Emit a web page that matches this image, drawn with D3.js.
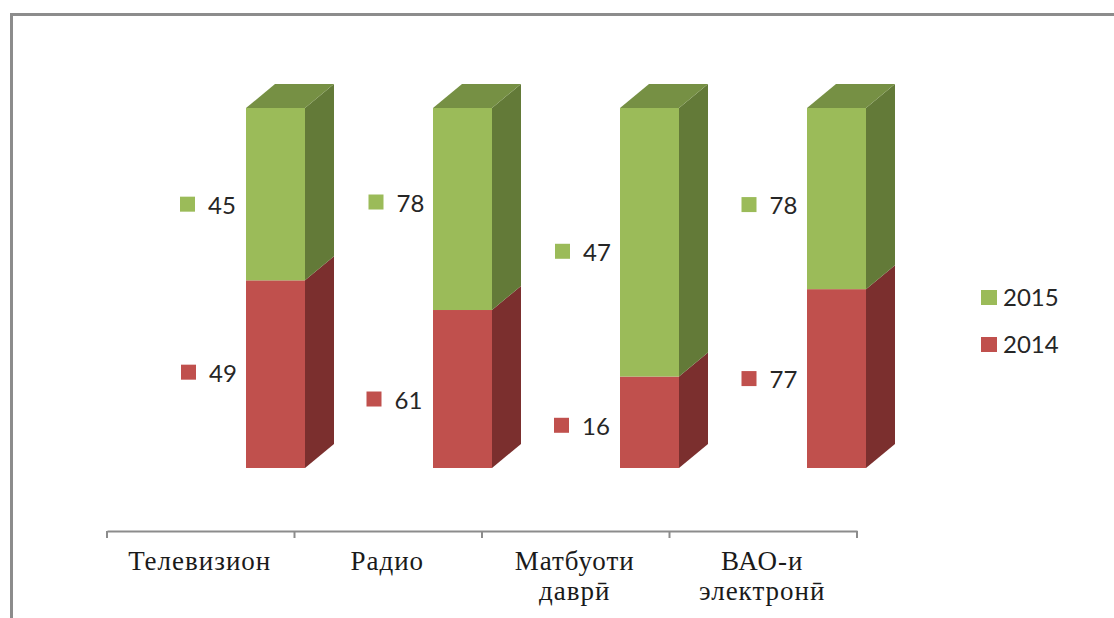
<!DOCTYPE html>
<html>
<head>
<meta charset="utf-8">
<script src="https://cdn.jsdelivr.net/npm/d3@7"></script>
<style>
  html, body { margin: 0; padding: 0; background: #fff; overflow: hidden; }
  svg { display: block; }
</style>
</head>
<body>
<div id="viz"></div>
<script>
const categories = ['Телевизион', 'Радио', 'Матбуоти даврӣ', 'ВАО-и электронӣ']
const values2014 = [49, 61, 16, 77]
const values2015 = [45, 78, 47, 78]
const years = ['2014', '2015']

const width = 1114
const height = 618

const fills = { 2014: '#c0504d', 2015: '#9bbb59' }
const sides = { 2014: '#7b2f2e', 2015: '#637a38' }
const tops = { 2015: '#769044' }

// the labels were dragged by hand in the original, so keep their nudges apart from the data
const labelNudge = {
  2014: [[74, -2], [72, 10], [72, 3], [72, 0]],
  2015: [[73, 10], [74, -7], [73, 9], [72, 6]]
}

const table = categories.map((c, i) => ({ category: c, 2014: values2014[i], 2015: values2015[i] }))
const series = d3.stack().keys(years).offset(d3.stackOffsetExpand)(table)

const x = d3.scaleBand().domain(categories).range([107, 857])
const xBars = d3.scaleBand().domain(categories).range([107, 855])  // the 3d bars run a touch tighter than the axis
const y = d3.scaleLinear().domain([0, 1]).range([468, 108])

const barLeft = 139   // bars sit off centre in their band because of the 3d rotation
const barWidth = 59
const depthX = 29
const depthY = 24

const svg = d3.select('#viz').append('svg')
  .attr('width', width)
  .attr('height', height)

// frame, cropped by the page on the right and bottom
svg.append('path')
  .attr('d', d3.line()([[11.5, height], [11.5, 14.5], [width, 14.5]]))
  .attr('fill', 'none')
  .attr('stroke', '#8c8c8c')
  .attr('stroke-width', 3)

// axis
const axis = svg.append('g')
  .attr('transform', 'translate(0,531)')
  .call(d3.axisBottom(x).tickSize(0).tickPadding(0).tickFormat(''))
axis.select('.domain').attr('stroke', '#8c8c8c').attr('stroke-width', 2)
axis.selectAll('.tick').remove()

axis.selectAll('line.sep')
  .data(categories.map(c => x(c)).concat(x.range()[1]))
  .join('line')
  .attr('class', 'sep')
  .attr('x1', d => d).attr('x2', d => d)
  .attr('y1', 0).attr('y2', 7)
  .attr('stroke', '#8c8c8c')
  .attr('stroke-width', 2)

function wrapLines(name) {
  return name.indexOf(' ') < 0 ? [name] : name.split(' ')
}

svg.selectAll('text.cat')
  .data(categories)
  .join('text')
  .attr('class', 'cat')
  .attr('y', 570)
  .attr('text-anchor', 'middle')
  .attr('font-family', '"Liberation Serif"')
  .attr('font-size', 27)
  .attr('letter-spacing', 1)
  .attr('fill', '#1a1a1a')
  .selectAll('tspan')
  .data(d => wrapLines(d).map(line => ({ line, x: x(d) + x.bandwidth() / 2 - 1 })))
  .join('tspan')
  .attr('x', d => d.x)
  .attr('dy', (d, i) => i ? 30 : 0)
  .text(d => d.line)

// bars
series.forEach(s => {
  const year = s.key
  const g = svg.append('g').attr('class', 'series-' + year)

  s.forEach(d => {
    const left = xBars(d.data.category) + barLeft
    const right = left + barWidth
    const y0 = y(d[0])
    const y1 = y(d[1])

    g.append('path')
      .attr('d', d3.line()([[right, y0], [right + depthX, y0 - depthY], [right + depthX, y1 - depthY], [right, y1]]) + 'Z')
      .attr('fill', sides[year])

    if (year === '2015') {
      g.append('path')
        .attr('d', d3.line()([[left, y1], [left + depthX, y1 - depthY], [right + depthX, y1 - depthY], [right, y1]]) + 'Z')
        .attr('fill', tops[year])
    }

    g.append('rect')
      .attr('x', left)
      .attr('y', y1)
      .attr('width', barWidth)
      .attr('height', y0 - y1)
      .attr('fill', fills[year])
  })
})

// data labels with their key
series.forEach(s => {
  const year = s.key
  s.forEach((d, i) => {
    const cx = x(d.data.category) + labelNudge[year][i][0]
    const cy = (y(d[0]) + y(d[1])) / 2 + labelNudge[year][i][1]
    svg.append('rect')
      .attr('x', cx)
      .attr('y', cy - 7.5)
      .attr('width', 15)
      .attr('height', 15)
      .attr('fill', fills[year])
    svg.append('text')
      .attr('x', cx + 28)
      .attr('y', cy + 9.5)
      .attr('font-family', 'Lato')
      .attr('font-size', 24)
      .attr('fill', '#262626')
      .text(d.data[year])
  })
})

// legend
const legend = svg.selectAll('g.legend')
  .data(years.slice().reverse())
  .join('g')
  .attr('class', 'legend')
  .attr('transform', (d, i) => 'translate(981,' + (290 + i * 47) + ')')
legend.append('rect')
  .attr('width', 16)
  .attr('height', 15)
  .attr('fill', d => fills[d])
legend.append('text')
  .attr('x', 22)
  .attr('y', 16)
  .attr('font-family', 'Lato')
  .attr('font-size', 24)
  .attr('fill', '#262626')
  .text(d => d)
</script>
</body>
</html>
